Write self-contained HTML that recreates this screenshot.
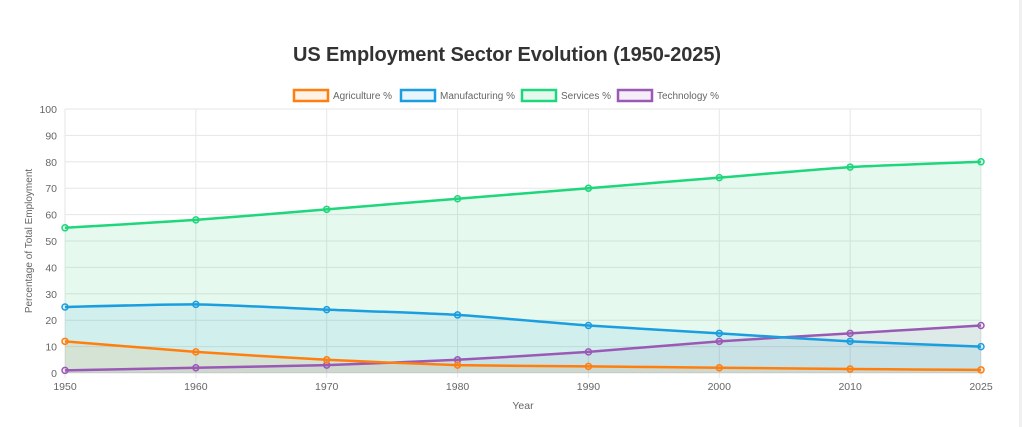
<!DOCTYPE html>
<html><head><meta charset="utf-8"><style>
html,body{margin:0;padding:0;background:#fff;width:1022px;height:427px;overflow:hidden;font-family:"Liberation Sans",Arial,sans-serif}
#edge{position:absolute;left:1019px;top:0;width:3px;height:427px;background:#f0f0f0}
</style></head><body>
<svg id="c" width="1022" height="427" style="position:absolute;left:0;top:0" xmlns="http://www.w3.org/2000/svg"></svg>
<div id="edge"></div>
<script>
const s=document.getElementById('c');
let h='';
const x0=65,x1=981,y0=373,y100=109;
const X=i=>x0+(x1-x0)*i/7, Y=v=>y0-(y0-y100)*v/100;
h+='<text x="507" y="61" text-anchor="middle" font-size="20" font-weight="bold" fill="#333" textLength="428">US Employment Sector Evolution (1950-2025)</text>';
for(let v=0;v<=100;v+=10){const y=Y(v);h+=`<line x1="${x0}" x2="${x1}" y1="${y}" y2="${y}" stroke="#e6e6e6"/>`;
h+=`<text x="${x0-8}" y="${y+4}" text-anchor="end" font-size="10.5" fill="#666">${v}</text>`;}
const yrs=[1950,1960,1970,1980,1990,2000,2010,2025];
yrs.forEach((yr,i)=>{const x=X(i);h+=`<line x1="${x}" x2="${x}" y1="${y100}" y2="${y0+5}" stroke="#e6e6e6"/>`;
h+=`<text x="${x}" y="${y0+17}" text-anchor="middle" font-size="10.5" fill="#666">${yr}</text>`;});
h+=`<text x="523" y="409" text-anchor="middle" font-size="10.5" fill="#666">Year</text>`;
h+=`<text transform="translate(32,241) rotate(-90)" text-anchor="middle" font-size="10" fill="#666">Percentage of Total Employment</text>`;
const ds=[
['Agriculture %','#ff7f0e','rgba(255,127,14,0.1)',[12,8,5,3,2.5,2,1.5,1.2]],
['Manufacturing %','#1a9ee0','rgba(26,158,224,0.1)',[25,26,24,22,18,15,12,10]],
['Services %','#1ed67c','rgba(46,204,113,0.12)',[55,58,62,66,70,74,78,80]],
['Technology %','#9b59b6','rgba(155,89,182,0.1)',[1,2,3,5,8,12,15,18]]];
function path(v){const p=v.map((d,i)=>[X(i),Y(d)]);let d=`M${p[0][0]},${p[0][1]}`;const t=0.2;
for(let i=0;i<p.length-1;i++){const a=p[Math.max(0,i-1)],b=p[i],c=p[i+1],e=p[Math.min(p.length-1,i+2)];
const c1=[b[0]+(c[0]-a[0])*t*0.5,b[1]+(c[1]-a[1])*t*0.5],c2=[c[0]-(e[0]-b[0])*t*0.5,c[1]-(e[1]-b[1])*t*0.5];
d+=` C${c1[0]},${c1[1]} ${c2[0]},${c2[1]} ${c[0]},${c[1]}`;}return d;}
for(let k=ds.length-1;k>=0;k--){const [n,c,f,v]=ds[k];const d=path(v);
h+=`<path d="${d} L${x1},${y0} L${x0},${y0} Z" fill="${f}"/>`;}
for(let k=ds.length-1;k>=0;k--){const [n,c,f,v]=ds[k];
h+=`<path d="${path(v)}" fill="none" stroke="${c}" stroke-width="2.5"/>`;
v.forEach((d,i)=>h+=`<circle cx="${X(i)}" cy="${Y(d)}" r="3" fill="${f}" stroke="${c}" stroke-width="1.5"/>`);}
const lg=[[294,'Agriculture %',59],[401,'Manufacturing %',75],[522,'Services %',50],[618,'Technology %',62]];
lg.forEach(([x,n,w],k)=>{const [,c,f]=ds[k];h+=`<rect x="${x}" y="90" width="34" height="11" fill="${f}" stroke="${c}" stroke-width="2.5"/>`;
h+=`<text x="${x+39}" y="99" font-size="10" fill="#666" textLength="${w}">${n}</text>`;});
s.innerHTML=h;
</script>
</body></html>
